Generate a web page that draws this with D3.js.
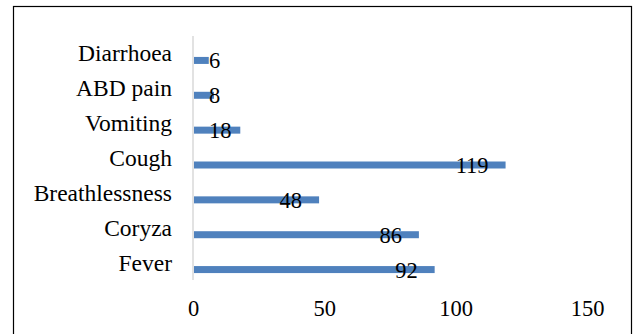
<!DOCTYPE html>
<html>
<head>
<meta charset="utf-8">
<script src="https://cdn.jsdelivr.net/npm/d3@7"></script>
<style>
  html, body { margin: 0; padding: 0; background: #fff; }
  svg { display: block; }
</style>
</head>
<body>
<svg id="chart" width="633" height="334"></svg>
<script>
// Symptoms, listed top to bottom
const categories = ["Diarrhoea", "ABD pain", "Vomiting", "Cough", "Breathlessness", "Coryza", "Fever"];
const values = [6, 8, 18, 119, 48, 86, 92];
const xTicks = [0, 50, 100, 150];

const serif = "'Liberation Serif', 'Times New Roman', Times, serif";
const labelSize = 23.5;
const numberSize = 22.5;

const svg = d3.select("#chart");

// Outer frame
svg.append("rect")
  .attr("x", 13.5).attr("y", 6.5)
  .attr("width", 618).attr("height", 400)
  .attr("fill", "none").attr("stroke", "#000").attr("stroke-width", 1.2);

const plot = { left: 193, right: 587, top: 36, bottom: 280 };

const x = d3.scaleLinear().domain([0, 150]).range([plot.left, plot.right]);
const y = d3.scaleBand().domain(categories).range([plot.top, plot.bottom]).padding(0);

const barH = 7;
const barShift = 7; // bars sit just below each category's centre line

// Vertical category axis line
svg.append("line")
  .attr("x1", x(0)).attr("x2", x(0))
  .attr("y1", plot.top).attr("y2", plot.bottom)
  .attr("stroke", "#d9d9d9").attr("stroke-width", 1.5);

// Bars
svg.append("g").selectAll("rect")
  .data(categories)
  .join("rect")
  .attr("x", x(0) + 1)
  .attr("y", (d) => y(d) + y.bandwidth() / 2 + barShift - barH / 2)
  .attr("width", (d, i) => x(values[i]) - x(0) - 1)
  .attr("height", barH)
  .attr("fill", "#4f81bd");

// Category labels
svg.append("g").selectAll("text")
  .data(categories)
  .join("text")
  .attr("x", x(0) - 21)
  .attr("y", (d) => y(d) + y.bandwidth() / 2 + 8)
  .attr("text-anchor", "end")
  .style("font-family", serif)
  .style("font-size", labelSize + "px")
  .attr("fill", "#000")
  .text((d) => d);

// Value labels: tucked inside the bar end, but never left of the axis margin
const minLeft = x(0) + 16;
svg.append("g").selectAll("text")
  .data(categories)
  .join("text")
  .attr("y", (d) => y(d) + y.bandwidth() / 2 + barShift + 8)
  .style("font-family", serif)
  .style("font-size", numberSize + "px")
  .attr("fill", "#000")
  .text((d, i) => values[i])
  .each(function (d, i) {
    const t = d3.select(this);
    const w = this.getComputedTextLength();
    const right = x(values[i]) - 17;
    if (right - w < minLeft) {
      t.attr("x", minLeft).attr("text-anchor", "start");
    } else {
      t.attr("x", right).attr("text-anchor", "end");
    }
  });

// X axis tick labels (no axis line or tick marks)
const xAxis = d3.axisBottom(x).tickValues(xTicks).tickSize(0).tickPadding(0);
const gx = svg.append("g").attr("transform", "translate(0, 316)").call(xAxis);
gx.attr("font-family", null).attr("font-size", null);
gx.select(".domain").remove();
gx.selectAll("text")
  .attr("y", 0).attr("dy", 0)
  .style("font-family", serif)
  .style("font-size", numberSize + "px")
  .attr("fill", "#000");
</script>
</body>
</html>
